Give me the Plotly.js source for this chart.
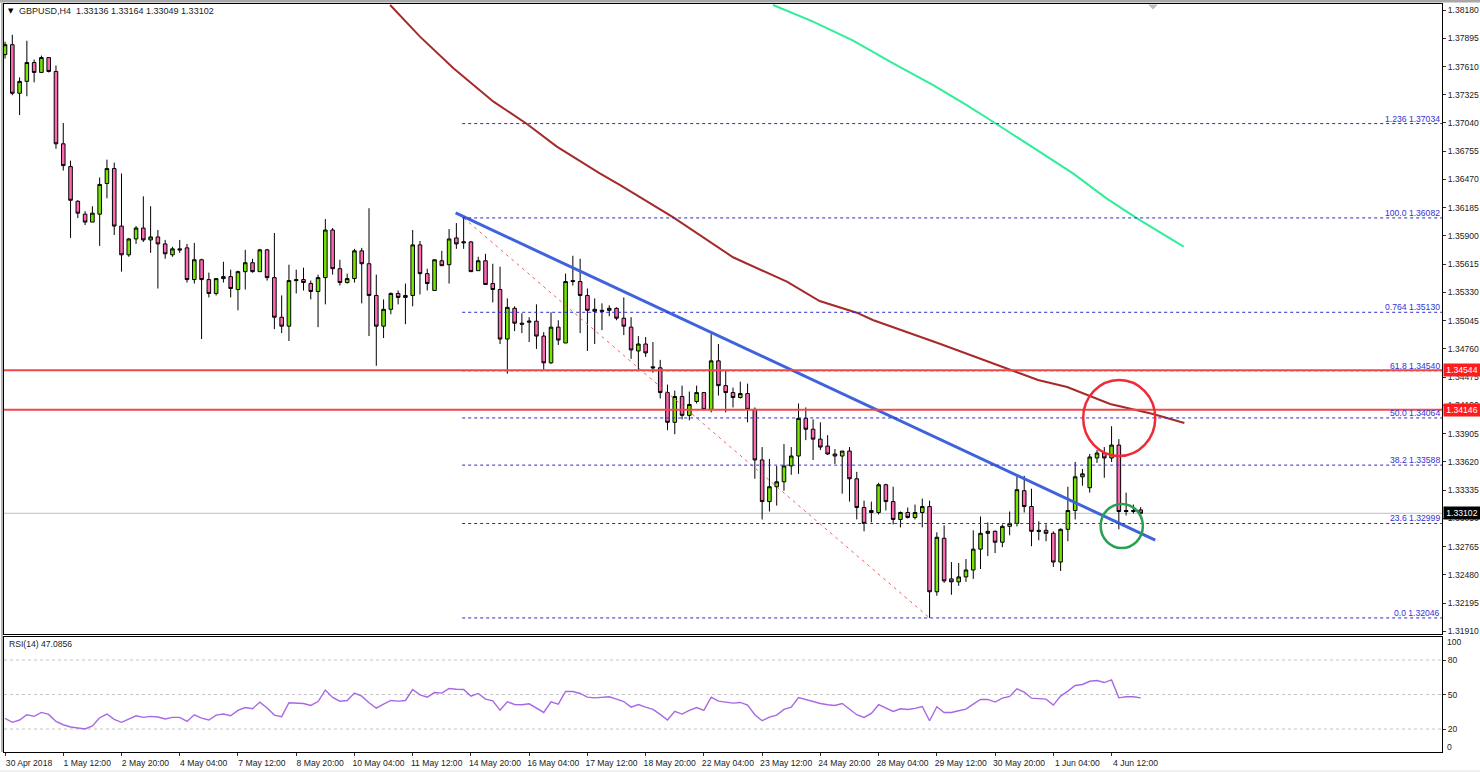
<!DOCTYPE html>
<html><head><meta charset="utf-8">
<script src="https://cdn.plot.ly/plotly-3.0.1.min.js"></script>
<style>html,body{margin:0;padding:0;background:#fff;overflow:hidden}#c{width:1480px;height:772px}</style>
</head><body><div id="c"></div>
<script>
const opens = [1.3773,1.3783,1.3734,1.3746,1.3765,1.3755,1.3770,1.3756,1.3683,1.3660,1.3625,1.3612,1.3604,1.3612,1.3643,1.3658,1.3600,1.3571,1.3587,1.3598,1.3586,1.3589,1.3582,1.3571,1.3577,1.3578,1.3546,1.3566,1.3546,1.3532,1.3547,1.3549,1.3536,1.3554,1.3563,1.3554,1.3576,1.3548,1.3508,1.3499,1.3546,1.3546,1.3542,1.3534,1.3548,
1.3596,1.3557,1.3543,1.3547,1.3575,1.3562,1.3530,1.3499,1.3516,1.3532,1.3528,1.3530,1.3581,1.3552,1.3535,1.3565,1.3561,1.3588,1.3583,1.3584,1.3555,1.3565,1.3542,1.3536,1.3486,1.3517,1.3502,1.3503,1.3504,1.3489,1.3462,1.3498,1.3482,1.3545,1.3544,1.3530,1.3516,1.3515,1.3515,1.3517,1.3507,1.3498,1.3474,1.3481,
1.3458,1.3457,1.3432,1.3402,1.3428,1.3409,1.3423,1.3432,1.3415,1.3464,1.3439,1.3432,1.3427,1.3431,1.3415,1.3364,1.3322,1.3337,1.3342,1.3358,1.3368,1.3406,1.3395,1.3385,1.3378,1.3370,1.3368,1.3373,1.3345,1.3316,1.3313,1.3311,1.3339,1.3322,1.3304,1.3311,1.3306,1.3311,1.3317,1.3231,
1.3285,1.3244,1.3241,1.3246,1.3253,1.3274,1.3290,1.3292,1.3281,1.3297,1.3300,1.3333,1.3317,1.3293,1.3293,1.3290,1.3261,1.3294,1.3313,1.3347,1.3336,1.3366,1.3371,1.3366,1.3379,1.3313,1.3312,1.33136];
const highs = [1.3786,1.3793,1.3750,1.3787,1.3768,1.3772,1.3770,1.3762,1.3704,1.3666,1.3626,1.3615,1.3620,1.3649,1.3667,1.3664,1.3653,1.3588,1.3600,1.3630,1.3620,1.3596,1.3586,1.3579,1.3586,1.3582,1.3583,1.3567,1.3553,1.3547,1.3564,1.3556,1.3555,1.3576,1.3567,1.3577,1.3577,1.3593,1.3530,1.3561,1.3556,1.3558,1.3545,1.3551,1.3607,
1.3598,1.3566,1.3552,1.3577,1.3578,1.3618,1.3551,1.3526,1.3533,1.3535,1.3542,1.3596,1.3585,1.3557,1.3566,1.3575,1.3597,1.3603,1.3609,1.3585,1.3569,1.3572,1.3562,1.3559,1.3527,1.3519,1.3512,1.3508,1.3521,1.3493,1.3513,1.3505,1.3552,1.3570,1.3567,1.3537,1.3527,1.3522,1.3520,1.3518,1.3528,1.3508,1.3489,1.3488,
1.3483,1.3465,1.3440,1.3434,1.3439,1.3433,1.3439,1.3432,1.3491,1.3481,1.3454,1.3437,1.3443,1.3441,1.3417,1.3377,1.3365,1.3358,1.3380,1.3377,1.3421,1.3417,1.3405,1.3402,1.3389,1.3375,1.3373,1.3377,1.3352,1.3323,1.3322,1.3341,1.3340,1.3337,1.3312,1.3316,1.3319,1.3325,1.3323,1.3291,
1.3298,1.3261,1.3260,1.3264,1.3293,1.3307,1.3301,1.3293,1.3299,1.3312,1.3347,1.3348,1.3335,1.3302,1.3299,1.3292,1.3295,1.3337,1.3362,1.3355,1.3370,1.3374,1.3377,1.3398,1.3385,1.3331,1.3319,1.33164];
const lows = [1.3769,1.3732,1.3712,1.3731,1.3745,1.3755,1.3755,1.3678,1.3656,1.3588,1.3608,1.3601,1.3604,1.3580,1.3628,1.3591,1.3554,1.3569,1.3582,1.3584,1.3573,1.3537,1.3567,1.3569,1.3573,1.3543,1.3542,1.3486,1.3528,1.3530,1.3543,1.3528,1.3515,1.3536,1.3553,1.3554,1.3545,1.3496,1.3492,1.3484,1.3532,1.3535,1.3526,1.3498,1.3521,
1.3551,1.3540,1.3542,1.3543,1.3522,1.3489,1.3459,1.3487,1.3511,1.3521,1.3501,1.3519,1.3531,1.3535,1.3535,1.3560,1.3542,1.3577,1.3577,1.3554,1.3555,1.3541,1.3523,1.3481,1.3451,1.3494,1.3492,1.3483,1.3476,1.3455,1.3461,1.3480,1.3482,1.3540,1.3492,1.3474,1.3481,1.3495,1.3509,1.3505,1.3490,1.3466,1.3455,1.3468,
1.3452,1.3426,1.3394,1.3390,1.3405,1.3404,1.3421,1.3414,1.3412,1.3429,1.3412,1.3417,1.3426,1.3402,1.3345,1.3304,1.3312,1.3318,1.3333,1.3349,1.3350,1.3384,1.3364,1.3374,1.3369,1.3360,1.3330,1.3322,1.3304,1.3292,1.3301,1.3309,1.3313,1.3299,1.3296,1.3305,1.3304,1.3296,1.32046,1.3227,
1.3240,1.3228,1.3237,1.3241,1.3244,1.3254,1.3267,1.3270,1.3276,1.3288,1.3297,1.3311,1.3277,1.3283,1.3282,1.3256,1.3252,1.3282,1.3304,1.3338,1.3331,1.3361,1.3346,1.3362,1.3294,1.3308,1.3310,1.33049];
const closes = [1.3783,1.3734,1.3746,1.3765,1.3755,1.3770,1.3756,1.3683,1.3661,1.3626,1.3613,1.3604,1.3613,1.3642,1.3658,1.3600,1.3571,1.3587,1.3598,1.3586,1.3589,1.3582,1.3572,1.3577,1.3576,1.3546,1.3566,1.3546,1.3532,1.3547,1.3549,1.3537,1.3554,1.3563,1.3554,1.3576,1.3548,1.3508,1.3499,1.3545,1.3545,1.3543,1.3534,1.3548,1.3596,
1.3557,1.3543,1.3547,1.3575,1.3562,1.3530,1.3499,1.3516,1.3532,1.3528,1.3530,1.3581,1.3552,1.3542,1.3566,1.3560,1.3587,1.3582,1.3584,1.3554,1.3565,1.3541,1.3536,1.3486,1.3518,1.3502,1.3501,1.3504,1.3489,1.3462,1.3498,1.3485,1.3544,1.3544,1.3530,1.3515,1.3514,1.3514,1.3517,1.3507,1.3499,1.3475,1.3481,1.3472,
1.3457,1.3432,1.3402,1.3428,1.3409,1.3420,1.3432,1.3415,1.3464,1.3439,1.3432,1.3427,1.3431,1.3415,1.3364,1.3322,1.3337,1.3342,1.3358,1.3368,1.3406,1.3395,1.3385,1.3377,1.3370,1.3368,1.3373,1.3345,1.3316,1.3300,1.3311,1.3339,1.3322,1.3304,1.3311,1.3306,1.3311,1.3317,1.3231,1.3286,
1.3242,1.3241,1.3246,1.3253,1.3274,1.3290,1.3292,1.3281,1.3297,1.3300,1.3334,1.3317,1.3292,1.3292,1.3290,1.3261,1.3294,1.3313,1.3347,1.3350,1.3367,1.3371,1.3366,1.3379,1.3312,1.3312,1.3313,1.33102];
const rsi = [29.2,25.8,27.8,32.4,31.0,34.4,32.7,26.6,23.7,21.7,20.9,20.0,22.6,29.8,33.0,28.4,25.8,28.7,31.5,30.1,31.0,30.4,28.7,30.1,30.1,26.6,32.4,29.5,27.8,32.1,33.0,31.5,36.2,38.7,37.6,43.4,38.2,32.1,30.7,42.8,42.8,42.2,40.5,43.9,53.8,47.4,44.2,44.8,51.2,48.6,42.8,38.2,41.6,44.8,44.2,44.8,54.3,49.7,47.7,51.7,51.2,55.2,54.6,54.3,48.6,50.9,46.0,44.5,36.4,43.7,41.3,41.1,41.9,38.5,34.4,43.7,41.6,52.6,52.6,50.9,47.7,47.1,
47.7,48.0,46.0,43.9,39.0,41.3,39.0,37.0,32.7,27.8,35.3,33.0,36.2,38.7,36.2,47.7,44.2,43.4,42.5,43.1,40.8,32.4,27.2,30.4,32.1,37.0,39.0,47.4,45.7,43.4,42.2,41.1,40.5,42.2,37.3,32.4,30.1,33.6,41.1,38.2,35.3,37.6,37.0,37.9,39.6,27.2,39.3,34.4,34.4,35.9,37.3,41.6,45.7,45.7,43.4,46.8,48.3,54.9,52.0,46.8,46.5,46.0,40.8,48.6,52.9,57.8,58.7,61.5,62.1,60.4,62.7,47.1,48.0,48.0,47.0856];
const maSlowBars = [52.9,57.0,61.6,67.1,71.7,75.8,81.7,84.5,91.8,100.0,107.4,111.9,117.0,119.2,128.4,138.5,141.9,145.9,148.6,151.8,157.7,162.0];
const maSlow = [1.38230,1.37911,1.37592,1.37255,1.37030,1.36801,1.36532,1.36414,1.36088,1.35685,1.35439,1.35244,1.35126,1.35052,1.34813,1.34538,1.34447,1.34376,1.34295,1.34205,1.34104,1.34013];
const maLongBars = [105.5,111.0,116.5,122.0,127.5,132.1,136.2,141.7,146.7,151.3,155.5,161.9];
const maLong = [1.38230,1.38062,1.37870,1.37642,1.37423,1.37221,1.37030,1.36767,1.36532,1.36280,1.36078,1.35792];
const trendBars = [61.9,158.0];
const trendPrices = [1.36132,1.32832];
const fibDiagBars = [63,127];
const fibDiagPrices = [1.36082,1.32046];
const fibNames = ["1.236","100.0","0.764","61.8","50.0","38.2","23.6","0.0"];
const fibLevels = [1.37034,1.36082,1.35130,1.34540,1.34064,1.33588,1.32999,1.32046];
const fibStartBar = 62.8;
const priceTicks = [1.38180,1.37895,1.37610,1.37325,1.37040,1.36755,1.36470,1.36185,1.35900,1.35615,1.35330,1.35045,1.34760,1.34475,1.34190,1.33905,1.33620,1.33335,1.33050,1.32765,1.32480,1.32195,1.31910];
const dateBars = [0,8,16,24,32,40,48,56,64,72,80,88,96,104,112,120,128,136,144,152];
const dateLabels = ["30 Apr 2018","1 May 12:00","2 May 20:00","4 May 04:00","7 May 12:00","8 May 20:00","10 May 04:00","11 May 12:00","14 May 20:00","16 May 04:00","17 May 12:00","18 May 20:00","22 May 04:00","23 May 12:00","24 May 20:00","28 May 04:00","29 May 12:00","30 May 20:00","1 Jun 04:00","4 Jun 12:00"];
const levelLines = [1.34544,1.34146];
const lastPrice = 1.33102;
const bars = opens.map((_,i)=>i);
console.log(opens.length,highs.length,lows.length,closes.length,rsi.length);

const FONT = "Liberation Sans, Arial, sans-serif";
const xRange = [-0.14,197.39];
const traces = [
 {type:'candlestick',x:bars,open:opens,high:highs,low:lows,close:closes,xaxis:'x',yaxis:'y',
  increasing:{line:{color:'#000',width:1},fillcolor:'#76e600'},
  decreasing:{line:{color:'#000',width:1},fillcolor:'#ff69b4'},whiskerwidth:0,hoverinfo:'skip',showlegend:false},
 {type:'scatter',mode:'lines',x:maSlowBars,y:maSlow,line:{color:'#a52a2a',width:2},xaxis:'x',yaxis:'y',hoverinfo:'skip',showlegend:false},
 {type:'scatter',mode:'lines',x:maLongBars,y:maLong,line:{color:'#30ee98',width:2},xaxis:'x',yaxis:'y',hoverinfo:'skip',showlegend:false},
 {type:'scatter',mode:'lines',x:fibDiagBars,y:fibDiagPrices,line:{color:'#f06060',width:1,dash:'3px,4px'},xaxis:'x',yaxis:'y',hoverinfo:'skip',showlegend:false},
 {type:'scatter',mode:'lines',x:trendBars,y:trendPrices,line:{color:'#3f63dc',width:3},xaxis:'x',yaxis:'y',hoverinfo:'skip',showlegend:false},
 {type:'scatter',mode:'lines',x:bars,y:rsi,line:{color:'#a868e4',width:1.4},xaxis:'x2',yaxis:'y2',hoverinfo:'skip',showlegend:false}
];
const pxX = x => (x-4)/1438, pxY = y => (752-y)/748;
const shapes = [];
shapes.push({type:'line',layer:'below',xref:'x',yref:'y',x0:xRange[0],x1:xRange[1],y0:lastPrice,y1:lastPrice,line:{color:'#c0c0c0',width:1}});
fibLevels.forEach(v=>shapes.push({type:'line',xref:'x',yref:'y',x0:fibStartBar,x1:xRange[1],y0:v,y1:v,line:{color:'#2a2ad0',width:1,dash:'3px,3px'}}));
levelLines.forEach(v=>shapes.push({type:'line',xref:'x',yref:'y',x0:xRange[0],x1:xRange[1],y0:v,y1:v,line:{color:'#f04848',width:2}}));
[80,50,20].forEach(v=>shapes.push({type:'line',layer:'below',xref:'x2',yref:'y2',x0:xRange[0],x1:xRange[1],y0:v,y1:v,line:{color:'#c4c4c4',width:1,dash:'3px,3px'}}));
shapes.push({type:'circle',xref:'x',yref:'y',x0:148.1,x1:158.0,y0:1.33680,y1:1.34447,line:{color:'#ee2b37',width:2.5}});
shapes.push({type:'circle',xref:'x',yref:'y',x0:150.5,x1:156.3,y0:1.32752,y1:1.33196,line:{color:'#27a050',width:2.5}});
shapes.push({type:'path',xref:'paper',yref:'paper',line:{width:0},fillcolor:'#bdbdbd',
  path:`M${pxX(1148)},${pxY(4.5)} L${pxX(1158)},${pxY(4.5)} L${pxX(1153)},${pxY(9.5)} Z`});
shapes.push({type:'rect',xref:'paper',yref:'paper',x0:pxX(0),x1:pxX(1480),y0:pxY(0),y1:pxY(2.5),line:{width:0},fillcolor:'#a8a8a8'});
shapes.push({type:'rect',xref:'paper',yref:'paper',x0:pxX(1),x1:pxX(3),y0:pxY(2.5),y1:pxY(752),line:{width:0},fillcolor:'#b4b4b4'});
shapes.push({type:'rect',xref:'paper',yref:'paper',x0:pxX(0),x1:pxX(1480),y0:pxY(770),y1:pxY(772),line:{width:0},fillcolor:'#f0f0f0'});

const annos = [];
fibLevels.forEach((v,i)=>annos.push({xref:'paper',yref:'y',x:1,y:v,xanchor:'right',yanchor:'bottom',xshift:-1,yshift:-1,showarrow:false,borderpad:0,
  text:fibNames[i]+' '+v.toFixed(5),font:{family:FONT,size:8.6,color:'#3232d8'}}));
levelLines.forEach(v=>annos.push({xref:'paper',yref:'y',x:1,y:v,xanchor:'left',xshift:1,showarrow:false,borderpad:1,bgcolor:'#ff1c1c',
  text:v.toFixed(5),font:{family:FONT,size:8.6,color:'#fff'},width:34,height:10}));
annos.push({xref:'paper',yref:'y',x:1,y:lastPrice,xanchor:'left',xshift:1,showarrow:false,borderpad:1,bgcolor:'#000',
  text:lastPrice.toFixed(5),font:{family:FONT,size:8.6,color:'#fff'},width:34,height:10});
annos.push({xref:'paper',yref:'paper',x:pxX(18),y:pxY(11.5),xanchor:'left',yanchor:'middle',showarrow:false,borderpad:0,
  text:'GBPUSD,H4  1.33136 1.33164 1.33049 1.33102',font:{family:FONT,size:9,color:'#222'}});
annos.push({xref:'paper',yref:'paper',x:pxX(7),y:pxY(11.5),xanchor:'left',yanchor:'middle',showarrow:false,borderpad:0,
  text:'▼',font:{family:'DejaVu Sans',size:7,color:'#000'}});
annos.push({xref:'paper',yref:'paper',x:pxX(8),y:pxY(644),xanchor:'left',yanchor:'middle',showarrow:false,borderpad:0,
  text:'RSI(14) 47.0856',font:{family:FONT,size:8.6,color:'#222'}});
[['100',642],['0',746.7]].forEach(a=>annos.push({xref:'paper',yref:'paper',x:pxX(1446),y:pxY(a[1]),xanchor:'left',yanchor:'middle',showarrow:false,borderpad:0,
  text:a[0],font:{family:FONT,size:8.6,color:'#222'}}));

const layout = {
 width:1480,height:772,margin:{l:4,r:38,t:4,b:20,pad:0},paper_bgcolor:'#fff',plot_bgcolor:'#fff',showlegend:false,
 font:{family:FONT,size:8.6,color:'#222'},dragmode:false,boxgap:0.3,
 xaxis:{domain:[0,1],range:xRange,anchor:'y',showticklabels:false,ticks:'',showgrid:false,zeroline:false,rangeslider:{visible:false},showline:true,mirror:true,linecolor:'#000',linewidth:1,fixedrange:true},
 yaxis:{domain:[pxY(634),1],range:[1.31884,1.382405],side:'right',anchor:'x',tickmode:'array',tickvals:priceTicks,tickformat:'.5f',ticks:'outside',ticklen:3,tickcolor:'#333',showgrid:false,zeroline:false,showline:true,mirror:true,linecolor:'#000',linewidth:1,automargin:false,fixedrange:true,tickfont:{family:FONT,size:8.6,color:'#222'}},
 xaxis2:{domain:[0,1],range:xRange,anchor:'y2',tickmode:'array',tickvals:dateBars,ticktext:dateLabels,ticks:'outside',ticklen:3,tickcolor:'#333',tickangle:0,ticklabelshift:24,showgrid:false,zeroline:false,showline:true,mirror:true,linecolor:'#000',linewidth:1,automargin:false,fixedrange:true,tickfont:{family:FONT,size:8.6,color:'#222'}},
 yaxis2:{domain:[0,pxY(637)],range:[0,100],side:'right',anchor:'x2',tickmode:'array',tickvals:[80,50,20],ticks:'outside',ticklen:3,tickcolor:'#333',showgrid:false,zeroline:false,showline:true,mirror:true,linecolor:'#000',linewidth:1,automargin:false,fixedrange:true,tickfont:{family:FONT,size:8.6,color:'#222'}},
 shapes:shapes,annotations:annos
};
Plotly.newPlot('c',traces,layout,{displayModeBar:false,staticPlot:true});
</script></body></html>
